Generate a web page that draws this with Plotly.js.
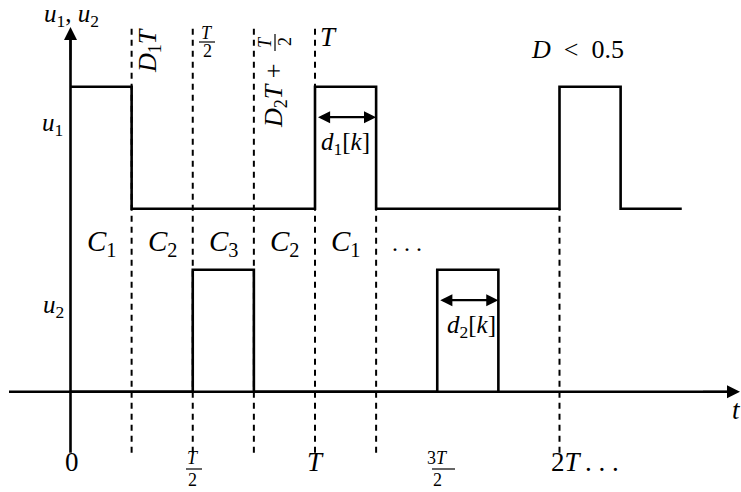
<!DOCTYPE html>
<html>
<head>
<meta charset="utf-8">
<script src="https://cdn.plot.ly/plotly-3.0.1.min.js"></script>
<style>html,body{margin:0;padding:0;background:#fff;}#chart{width:741px;height:492px;}</style>
</head>
<body>
<div id="chart"></div>
<script>
// ---- data (time in units of T, levels in signal units) ----
var u1Times  = [0, 0.25, 1, 1.25, 2, 2.25, 2.5];
var u1Levels = [2.5, 1.5, 2.5, 1.5, 2.5, 1.5, 1.5];
var u2Times  = [0, 0.5, 0.75, 1.5, 1.75];
var u2Levels = [0, 1, 0, 1, 0];
var guideFullTimes  = [0.25, 0.5, 0.75, 1];
var guideLowerTimes = [1.25, 2];
var guideTop = 3.0, guideLowerTop = 1.5, guideBottom = -0.5;
var regionCenters = [0.125, 0.375, 0.625, 0.875, 1.125];
var regionLabels  = ['1', '2', '3', '2', '1'];
var tickTimes  = [0, 1, 2];
var tickLabels = ['0', '<i>T</i>', '2<i>T</i>\u2009. . .'];
var fracTickTimes = [0.5, 1.5];
var fracTickNums  = ['<i>T</i>', '3<i>T</i>'];

// pixel helpers for decoration placement
function X(px){ return (px - 70.5) / 244.5; }
function Y(py){ return (391.7 - py) / 122; }

var F = "'Liberation Serif', 'DejaVu Serif', serif";
var black = '#000';
var traces = [];

guideFullTimes.forEach(function(t){
  traces.push({x:[t,t], y:[guideBottom, guideTop], mode:'lines',
    line:{color:black, width:2, dash:'6px,5px'}, hoverinfo:'skip'});
});
guideLowerTimes.forEach(function(t){
  traces.push({x:[t,t], y:[guideBottom, guideLowerTop], mode:'lines',
    line:{color:black, width:2, dash:'6px,5px'}, hoverinfo:'skip'});
});
traces.push({x:u1Times, y:u1Levels, mode:'lines', line:{shape:'hv', color:black, width:2.6}, hoverinfo:'skip'});
traces.push({x:u2Times, y:u2Levels, mode:'lines', line:{shape:'hv', color:black, width:2.6}, hoverinfo:'skip'});
// axis lines
traces.push({x:[X(9), X(728)], y:[0,0], mode:'lines', line:{color:black, width:2.6}, hoverinfo:'skip'});
traces.push({x:[0,0], y:[guideBottom, Y(40)], mode:'lines', line:{color:black, width:2.6}, hoverinfo:'skip'});

var ann = [];
function txt(x, y, s, size, opts){
  var a = {x:x, y:y, xref:'x', yref:'y', text:s, showarrow:false,
    font:{family:F, size:size, color:black}};
  if (opts) for (var k in opts) a[k] = opts[k];
  ann.push(a);
}
// axis arrowheads
ann.push({x:X(740), y:0, ax:X(700), ay:0, xref:'x', yref:'y', axref:'x', ayref:'y',
  text:' ', showarrow:true, arrowhead:2, arrowsize:1.3, arrowwidth:2, arrowcolor:black, standoff:0});
ann.push({x:0, y:Y(27), ax:0, ay:Y(70), xref:'x', yref:'y', axref:'x', ayref:'y',
  text:' ', showarrow:true, arrowhead:2, arrowsize:1.3, arrowwidth:2, arrowcolor:black, standoff:0});
// duty-width double arrows
ann.push({x:u1Times[3], y:2.25, ax:u1Times[2], ay:2.25, xref:'x', yref:'y', axref:'x', ayref:'y',
  text:' ', showarrow:true, arrowhead:2, startarrowhead:2, arrowside:'end+start', arrowsize:1.1, startarrowsize:1.1,
  arrowwidth:2.2, arrowcolor:black, standoff:0, startstandoff:0});
ann.push({x:u2Times[4], y:0.75, ax:u2Times[3], ay:0.75, xref:'x', yref:'y', axref:'x', ayref:'y',
  text:' ', showarrow:true, arrowhead:2, startarrowhead:2, arrowside:'end+start', arrowsize:1.1, startarrowsize:1.1,
  arrowwidth:2.2, arrowcolor:black, standoff:0, startstandoff:0});

// labels
txt(X(71), Y(15), '<i>u</i><sub>1</sub>, <i>u</i><sub>2</sub>', 25);
txt(X(52), Y(124), '<i>u</i><sub>1</sub>', 25);
txt(X(53), Y(306), '<i>u</i><sub>2</sub>', 25);
txt(X(149), Y(51), '<i>D</i><sub>1</sub><i>T</i>', 26, {textangle:-90});
// top T/2
txt(X(207), Y(33), '<i>T</i>', 18);
txt(X(207), Y(51), '2', 18);
// rotated D2T + T/2
txt(X(275), Y(96), '<i>D</i><sub>2</sub><i>T</i> +', 26, {textangle:-90});
txt(X(265), Y(42), '<i>T</i>', 18, {textangle:-90});
txt(X(285), Y(42), '2', 18, {textangle:-90});
txt(X(328), Y(37), '<i>T</i>', 27);
txt(X(577), Y(49), '<i>D</i>\u2002&lt;\u20020.5', 26);
txt(X(345), Y(143), '<i>d</i><sub>1</sub>[<i>k</i>]', 25);
txt(X(471), Y(326), '<i>d</i><sub>2</sub>[<i>k</i>]', 25);
regionCenters.forEach(function(c, i){
  txt(c, Y(243), '<i>C</i><sub>' + regionLabels[i] + '</sub>', 29);
});
txt(X(407), Y(243), '. . .', 24);
txt(X(736), Y(410), '<i>t</i>', 27);
tickTimes.forEach(function(t, i){
  if (i === 2) txt(X(549), Y(462), tickLabels[i], 27, {xanchor:'left'});
  else txt(t + (i===0 ? X(72) : 0), Y(462), tickLabels[i], 27);
});
fracTickTimes.forEach(function(t, i){
  txt(t, Y(458), fracTickNums[i], 18);
  txt(t, Y(480), '2', 18);
});

var shapes = [
  {type:'line', xref:'x', yref:'y', x0:X(199), x1:X(215), y0:Y(42), y1:Y(42), line:{color:black, width:1.2}},
  {type:'line', xref:'x', yref:'y', x0:X(275), x1:X(275), y0:Y(34), y1:Y(51), line:{color:black, width:1.2}},
  {type:'line', xref:'x', yref:'y', x0:X(186), x1:X(202), y0:Y(469), y1:Y(469), line:{color:black, width:1.2}},
  {type:'line', xref:'x', yref:'y', x0:X(432), x1:X(455), y0:Y(469), y1:Y(469), line:{color:black, width:1.2}}
];

var layout = {
  width:741, height:492, margin:{l:0, r:0, t:0, b:0},
  paper_bgcolor:'#fff', plot_bgcolor:'#fff', showlegend:false,
  xaxis:{range:[X(0), X(741)], visible:false, fixedrange:true},
  yaxis:{range:[Y(492), Y(0)], visible:false, fixedrange:true},
  annotations:ann, shapes:shapes
};
Plotly.newPlot('chart', traces, layout, {displayModeBar:false, staticPlot:true});
</script>
</body>
</html>
